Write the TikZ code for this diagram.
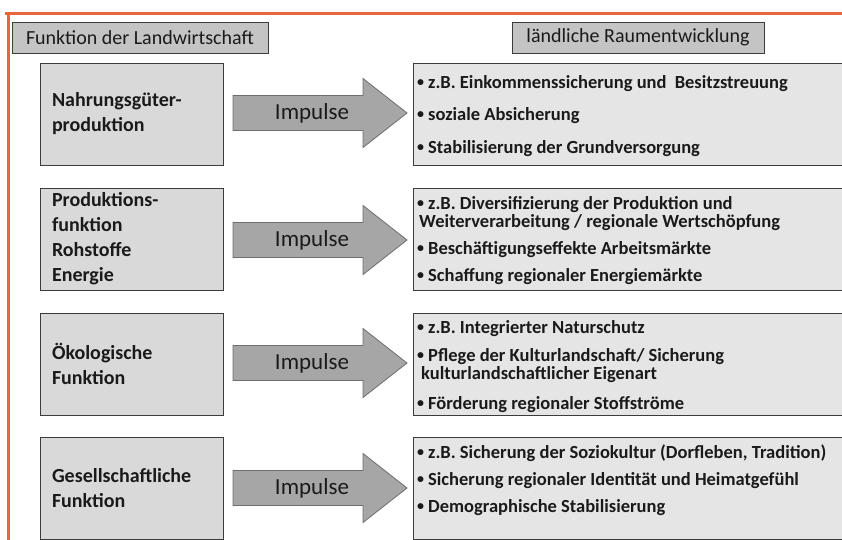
\documentclass[tikz,border=0pt]{standalone}
\usepackage{fontspec}
\setmainfont{Carlito}
\definecolor{frameor}{HTML}{E9653B}
\definecolor{hdrfill}{HTML}{C4C4C4}
\definecolor{lfill}{HTML}{D9D9D9}
\definecolor{rfill}{HTML}{E5E5E5}
\definecolor{arrfill}{HTML}{A6A6A6}
\definecolor{arrdraw}{HTML}{6E6E6E}
\definecolor{boxdraw}{HTML}{3C3C3C}
\definecolor{txt}{HTML}{1A1A1A}
\tikzset{
  hdr/.style={draw=boxdraw, fill=hdrfill, line width=0.9pt, inner sep=0pt, text=txt,
    minimum height=31pt, font=\fontsize{20}{24}\selectfont},
  lbox/.style={draw=boxdraw, fill=lfill, line width=0.9pt, minimum height=102pt,
    inner xsep=12pt, inner ysep=0pt, text width=159pt, align=left, text=txt,
    font=\bfseries\fontsize{20}{25}\selectfont},
  rbox/.style={draw=boxdraw, fill=rfill, line width=0.9pt, minimum width=440pt,
    minimum height=102pt, inner sep=0pt},
  rtxt/.style={anchor=base west, inner sep=0pt, text=txt,
    font=\bfseries\fontsize{18.5}{21}\selectfont},
  imparrow/.style={draw=arrdraw, fill=arrfill, line width=0.8pt},
  imptxt/.style={inner sep=0pt, text=txt, font=\fontsize{23}{27}\selectfont},
  frameline/.style={draw=frameor, line width=3pt},
}
\newcommand{\bul}{\raisebox{1.2pt}{\fontsize{14}{14}\selectfont\textbullet}\hspace{4pt}}
\newcommand{\imparrowat}[2]{%
  \coordinate (#1s) at (233,#2);
  \coordinate (#1t) at (407,#2);
  \draw[imparrow] (233,#2-17.5) -- (363,#2-17.5) -- (363,#2-34.5) -- (#1t)
     -- (363,#2+34.5) -- (363,#2+17.5) -- (233,#2+17.5) -- cycle;
  \node[imptxt] (#1l) at (312,#2) {Impulse};
}
\begin{document}
\begin{tikzpicture}[x=1pt,y=-1pt]
\useasboundingbox (0,0) rectangle (842,539);
\clip (0,0) rectangle (842,539);

% orange frame
\draw[frameline] (5,13) -- (850,13);
\draw[frameline] (8,13) -- (8,550);

% headers
\node[hdr, minimum width=256pt] (h1) at (140,37.5) {Funktion der Landwirtschaft};
\node[hdr, minimum width=252pt] (h2) at (638,37.5) {ländliche Raumentwicklung};

% row 1
\node[lbox] (l1) at (131.5,114) {Nahrungsgüter-\\produktion};
\node[rbox] (r1) at (633,114) {};
\imparrowat{a1}{113}
\node[rtxt] (r1a) at (417,88) {\bul z.B. Einkommenssicherung und\hspace{4pt} Besitzstreuung};
\node[rtxt] (r1b) at (417,120) {\bul soziale Absicherung};
\node[rtxt] (r1c) at (417,153) {\bul Stabilisierung der Grundversorgung};

% row 2
\node[lbox] (l2) at (131.5,239) {Produktions-\\funktion\\Rohstoffe\\Energie};
\node[rbox] (r2) at (633,239) {};
\imparrowat{a2}{240}
\node[rtxt] (r2a) at (417,209) {\bul z.B. Diversifizierung der Produktion und};
\node[rtxt] (r2b) at (419,227) {Weiterverarbeitung / regionale Wertschöpfung};
\node[rtxt] (r2c) at (417,254) {\bul Beschäftigungseffekte Arbeitsmärkte};
\node[rtxt] (r2d) at (417,281) {\bul Schaffung regionaler Energiemärkte};

% row 3
\node[lbox] (l3) at (131.5,364) {Ökologische\\Funktion};
\node[rbox] (r3) at (633,364) {};
\imparrowat{a3}{363}
\node[rtxt] (r3a) at (417,333) {\bul z.B. Integrierter Naturschutz};
\node[rtxt] (r3b) at (417,361) {\bul Pflege der Kulturlandschaft/ Sicherung};
\node[rtxt] (r3c) at (421,379) {kulturlandschaftlicher Eigenart};
\node[rtxt] (r3d) at (417,409) {\bul Förderung regionaler Stoffströme};

% row 4
\node[lbox] (l4) at (131.5,488) {Gesellschaftliche\\Funktion};
\node[rbox] (r4) at (633,488) {};
\imparrowat{a4}{488}
\node[rtxt] (r4a) at (417,458) {\bul z.B. Sicherung der Soziokultur (Dorfleben, Tradition)};
\node[rtxt] (r4b) at (417,485) {\bul Sicherung regionaler Identität und Heimatgefühl};
\node[rtxt] (r4c) at (417,512) {\bul Demographische Stabilisierung};
\end{tikzpicture}
\end{document}
